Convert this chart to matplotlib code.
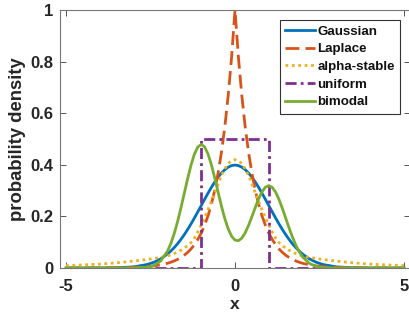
import numpy as np
import matplotlib
matplotlib.use("Agg")
import matplotlib.pyplot as plt

plt.rcParams['font.family'] = ['Liberation Sans', 'DejaVu Sans']
plt.rcParams['font.weight'] = 'bold'

# sample points (dense near the centre)
x = [-5.0, -4.5, -4.0, -3.5, -3.0, -2.6, -2.4, -2.2,
     -2.0, -1.9, -1.8, -1.7, -1.6, -1.5, -1.4, -1.3, -1.2, -1.1,
     -1.0, -0.9, -0.8, -0.7, -0.6, -0.5, -0.4, -0.3, -0.2, -0.1,
     0.0, 0.1, 0.2, 0.3, 0.4, 0.5, 0.6, 0.7, 0.8, 0.9,
     1.0, 1.1, 1.2, 1.3, 1.4, 1.5, 1.6, 1.7, 1.8, 1.9, 2.0,
     2.2, 2.4, 2.6, 3.0, 3.5, 4.0, 4.5, 5.0]

gauss_half = [0.3989, 0.3970, 0.3910, 0.3814, 0.3683, 0.3521, 0.3332, 0.3123,
              0.2897, 0.2661, 0.2420, 0.2179, 0.1942, 0.1714, 0.1497, 0.1295,
              0.1109, 0.0940, 0.0790, 0.0656, 0.0540,
              0.0355, 0.0224, 0.0136, 0.0044, 0.0009, 0.0001, 0.0, 0.0]
laplace_half = [1.0, 0.8187, 0.6703, 0.5488, 0.4493, 0.3679, 0.3012, 0.2466,
                0.2019, 0.1653, 0.1353, 0.1108, 0.0907, 0.0743, 0.0608, 0.0498,
                0.0408, 0.0334, 0.0273, 0.0224, 0.0183,
                0.0123, 0.0082, 0.0055, 0.0025, 0.0009, 0.0003, 0.0001, 0.0]
stable_half = [0.420, 0.416, 0.405, 0.385, 0.358, 0.326, 0.292, 0.258,
               0.226, 0.195, 0.167, 0.140, 0.116, 0.099, 0.087, 0.077,
               0.069, 0.062, 0.056, 0.051, 0.047,
               0.041, 0.037, 0.033, 0.027, 0.020, 0.015, 0.012, 0.009]

gaussian = gauss_half[:0:-1] + gauss_half
laplace = laplace_half[:0:-1] + laplace_half
alpha_stable = stable_half[:0:-1] + stable_half

bimodal = [0.0, 0.0, 0.0, 0.0, 0.0002, 0.0029, 0.0095, 0.0269,
           0.0648, 0.0947, 0.1331, 0.1797, 0.2330, 0.2904, 0.3476, 0.3999, 0.4419, 0.4693,
           0.4788, 0.4695, 0.4424, 0.4009, 0.3495, 0.2939, 0.2393, 0.1906, 0.1510, 0.1231,
           0.1080, 0.1058, 0.1156, 0.1361, 0.1648, 0.1989, 0.2347, 0.2681, 0.2953, 0.3132,
           0.3194, 0.3129, 0.2946, 0.2666, 0.2318, 0.1936, 0.1553, 0.1198, 0.0887, 0.0632, 0.0432,
           0.0179, 0.0063, 0.0019, 0.0001, 0.0, 0.0, 0.0, 0.0]

uniform_x = [-5, -1, -1, 1, 1, 5]
uniform_y = [0, 0, 0.5, 0.5, 0, 0]

labels = ['Gaussian', 'Laplace', 'alpha-stable', 'uniform', 'bimodal']
colors = ['#0072BD', '#D95319', '#EDB120', '#7E2F8E', '#77AC30']

W, H = 409, 324
fig = plt.figure(figsize=(W / 100, H / 100), dpi=100)
ax = fig.add_axes([60 / W, (H - 268) / H, 350 / W, 258 / H])

lw = 2.0
ax.plot(x, gaussian, color=colors[0], lw=lw, label=labels[0])
ax.plot(x, laplace, color=colors[1], lw=lw, dashes=(5, 2.2), label=labels[1])
ax.plot(x, alpha_stable, color=colors[2], lw=lw, dashes=(1, 1.3), label=labels[2])
ax.plot(uniform_x, uniform_y, color=colors[3], lw=lw, dashes=(4, 1.5, 1, 1.5),
        label=labels[3])
ax.plot(x, bimodal, color=colors[4], lw=lw, label=labels[4])

ax.set_xlim(-5.18, 5.18)
ax.set_ylim(0, 1)
ax.set_xticks([-5, 0, 5])
ax.set_xticklabels(['-5', '0', '5'])
ax.set_yticks([0, 0.2, 0.4, 0.6, 0.8, 1])
ax.set_yticklabels(['0', '0.2', '0.4', '0.6', '0.8', '1'])
ax.tick_params(direction='in', length=4, width=0.7, color='#555555',
               labelsize=12, labelcolor='#262626', top=True, right=True)
ax.tick_params(axis='x', pad=8)
ax.tick_params(axis='y', pad=5)
for s in ax.spines.values():
    s.set_color('#777777')
    s.set_linewidth(0.8)

ax.set_xlabel('x', fontsize=12.5, fontweight='bold', color='#262626', labelpad=2)
ax.set_ylabel('probability density', fontsize=13.3, fontweight='bold',
              color='#262626', labelpad=3)

leg = ax.legend(loc='upper right', bbox_to_anchor=(400 / W, (H - 20) / H),
                bbox_transform=fig.transFigure, borderaxespad=0,
                prop={'size': 9.6, 'weight': 'bold'}, handlelength=2.2,
                handletextpad=0.2, labelspacing=0.4, borderpad=0.4,
                fancybox=False, framealpha=1)
leg.get_frame().set_edgecolor('#333333')
leg.get_frame().set_linewidth(0.8)
for t in leg.get_texts():
    t.set_color('#111111')

fig.savefig('out.png', dpi=100)
